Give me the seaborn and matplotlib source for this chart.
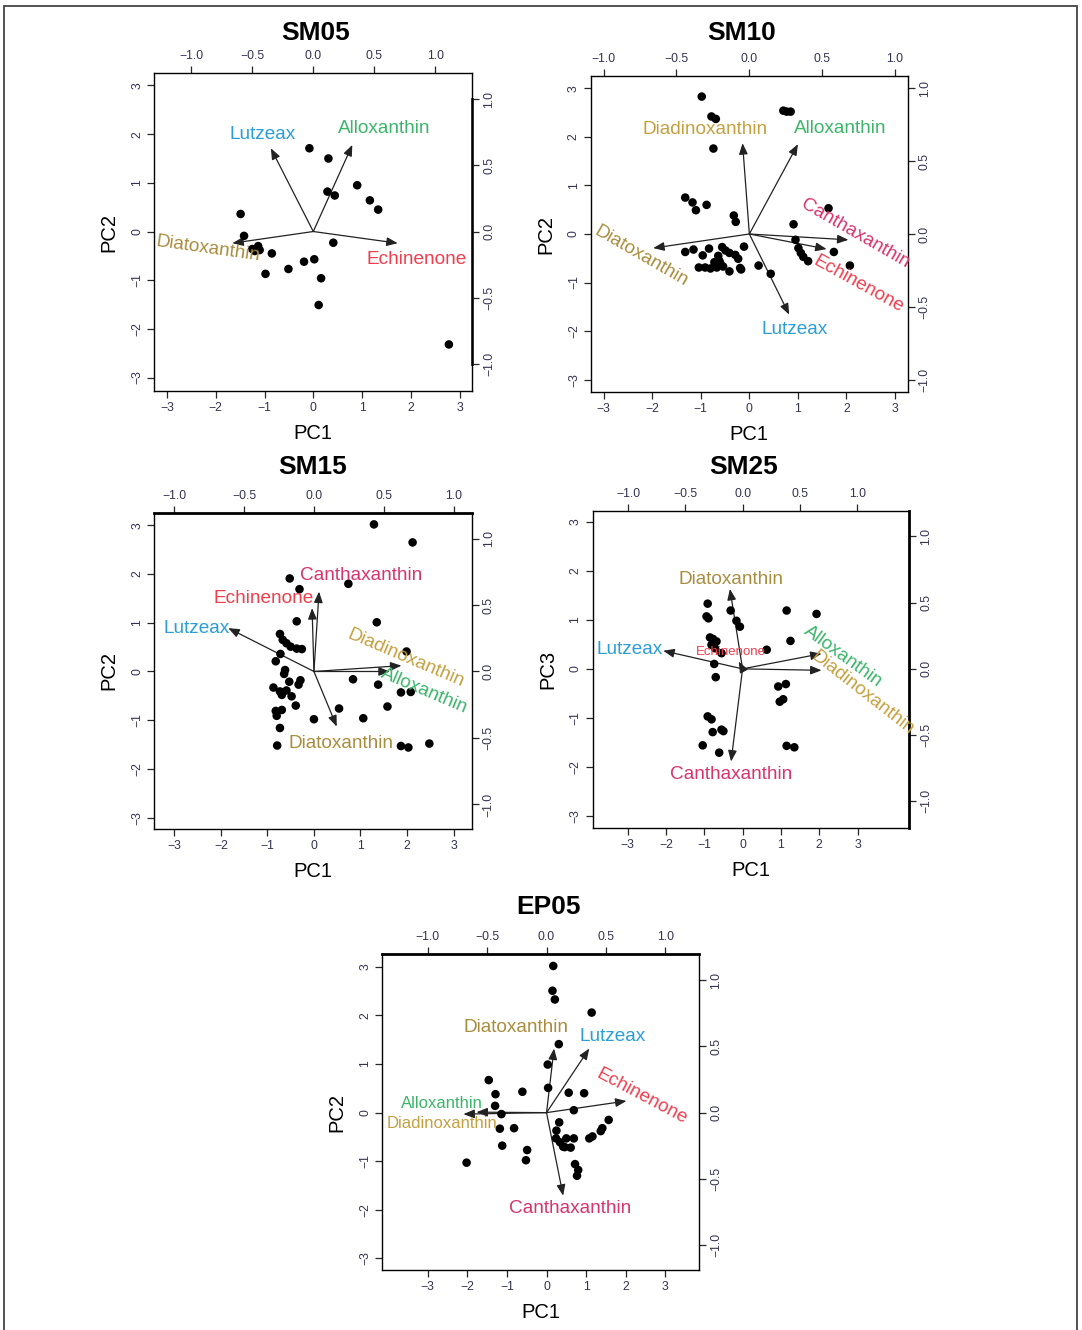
import matplotlib
matplotlib.use('Agg')
import matplotlib.pyplot as plt
import seaborn as sns
import pandas as pd
from matplotlib.patches import Rectangle

# ---------------- data (scores and loading arrow tips) ----------------
# SM05
sm05_pc1 = [-0.08, 0.31, 0.29, 0.44, 0.90, 1.16, 1.33, -1.49, -1.42, -1.25, -1.13, -1.10, -1.20,
            -0.85, -0.98, -0.51, -0.19, 0.02, 0.41, 0.16, 0.11, 2.78]
sm05_pc2 = [1.71, 1.50, 0.82, 0.74, 0.95, 0.64, 0.45, 0.36, -0.09, -0.36, -0.30, -0.38, -0.40,
            -0.45, -0.87, -0.77, -0.62, -0.57, -0.23, -0.96, -1.51, -2.32]
sm05_pigments = ['Lutzeax', 'Alloxanthin', 'Diatoxanthin', 'Echinenone']
sm05_arrow_x = [-0.87, 0.80, -1.66, 1.73]
sm05_arrow_y = [1.71, 1.78, -0.24, -0.24]

# SM10
sm10_pc1 = [-0.98, -0.78, -0.69, -0.74, 0.70, 0.77, 0.85, -1.32, -1.17, -1.10, -0.88, -0.32, -0.28,
            1.63, 0.91, -1.32, -1.15, -0.96, -0.83, -1.04, -0.91, -0.80, -0.67, -0.62, -0.64, -0.56,
            -0.49, -0.41, -0.29, -0.23, -0.54, -0.41, -0.19, -0.17, -0.11, 0.19, 0.44, 0.95, 1.01,
            1.06, 1.11, 1.21, 1.74, 2.07, -0.60, -0.72]
sm10_pc2 = [2.83, 2.42, 2.37, 1.76, 2.54, 2.52, 2.52, 0.75, 0.65, 0.49, 0.60, 0.38, 0.25,
            0.53, 0.20, -0.37, -0.32, -0.44, -0.30, -0.69, -0.69, -0.71, -0.69, -0.55, -0.45, -0.27,
            -0.34, -0.39, -0.43, -0.51, -0.67, -0.77, -0.70, -0.73, -0.26, -0.65, -0.82, -0.12, -0.29,
            -0.39, -0.47, -0.56, -0.37, -0.65, -0.60, -0.58]
sm10_pigments = ['Diadinoxanthin', 'Alloxanthin', 'Diatoxanthin', 'Canthaxanthin', 'Echinenone', 'Lutzeax']
sm10_arrow_x = [-0.14, 1.00, -1.98, 2.04, 1.59, 0.82]
sm10_arrow_y = [1.87, 1.85, -0.29, -0.12, -0.31, -1.66]

# SM15
sm15_pc1 = [1.29, 2.12, -0.52, -0.31, 0.74, -0.37, 1.35, -0.73, -0.67, -0.59, -0.50, -0.37, -0.26,
            -0.72, -0.82, -0.62, -0.64, -0.53, -0.29, -0.33, -0.87, -0.73, -0.69, -0.59, -0.48, -0.39,
            -0.82, -0.69, -0.80, -0.73, -0.79, 0.00, 0.54, 1.06, 0.84, 1.38, 1.58, 1.99, 1.87, 2.08,
            1.87, 2.03, 2.48]
sm15_pc2 = [3.02, 2.65, 1.91, 1.69, 1.80, 1.03, 1.01, 0.77, 0.65, 0.58, 0.51, 0.47, 0.46,
            0.36, 0.21, 0.03, -0.05, -0.21, -0.18, -0.27, -0.33, -0.41, -0.48, -0.39, -0.51, -0.70,
            -0.81, -0.79, -0.91, -1.16, -1.52, -0.98, -0.76, -0.96, -0.16, -0.27, -0.72, 0.41, -0.43, -0.42,
            -1.53, -1.56, -1.48]
sm15_pigments = ['Canthaxanthin', 'Echinenone', 'Lutzeax', 'Diadinoxanthin', 'Alloxanthin', 'Diatoxanthin']
sm15_arrow_x = [0.11, -0.04, -1.84, 1.88, 1.63, 0.49]
sm15_arrow_y = [1.64, 1.30, 0.89, 0.12, 0.00, -1.13]

# SM25 (PC1 vs PC3)
sm25_pc1 = [-0.91, -0.94, -0.89, -0.31, -0.16, -0.07, -0.85, -0.77, -0.68, -0.81, -0.72, -0.55,
            -0.74, -0.70, 0.63, 1.15, 1.25, 1.93, 0.93, 1.13, 0.97, 1.06, -0.91, -0.81, -0.78, -0.55,
            -0.50, -1.04, -0.61, 1.15, 1.35]
sm25_pc3 = [1.33, 1.07, 1.03, 1.19, 0.98, 0.86, 0.64, 0.61, 0.56, 0.49, 0.42, 0.32,
            0.10, -0.17, 0.39, 1.19, 0.57, 1.12, -0.36, -0.31, -0.67, -0.62, -0.97, -1.03, -1.29, -1.24,
            -1.27, -1.56, -1.71, -1.57, -1.60]
sm25_pigments = ['Diatoxanthin', 'Canthaxanthin', 'Lutzeax', 'Echinenone', 'Alloxanthin', 'Diadinoxanthin']
sm25_arrow_x = [-0.33, -0.30, -2.07, -0.10, 2.06, 2.06]
sm25_arrow_y = [1.63, -1.89, 0.37, 0.15, 0.31, -0.03]

# EP05
ep05_pc1 = [0.17, 0.15, 0.21, 1.14, 0.31, 0.03, 0.04, -1.46, -1.29, -1.30, -1.14, -1.18, -0.82,
            -0.61, -1.12, -0.49, -0.52, -2.02, 0.56, 0.95, 0.69, 0.32, 0.25, 0.24, 0.34, 0.42, 0.50,
            0.61, 0.69, 0.46, 0.72, 0.80, 0.77, 1.08, 1.16, 1.37, 1.41, 1.57]
ep05_pc2 = [3.02, 2.51, 2.33, 2.06, 1.41, 0.99, 0.51, 0.67, 0.38, 0.14, -0.03, -0.33, -0.32,
            0.43, -0.68, -0.77, -0.98, -1.03, 0.41, 0.40, 0.05, -0.20, -0.37, -0.53, -0.61, -0.70, -0.53,
            -0.72, -0.53, -0.71, -1.06, -1.18, -1.30, -0.53, -0.49, -0.38, -0.32, -0.15]
ep05_pigments = ['Diatoxanthin', 'Lutzeax', 'Echinenone', 'Alloxanthin', 'Diadinoxanthin', 'Canthaxanthin']
ep05_arrow_x = [0.19, 1.08, 2.02, -2.10, -1.77, 0.42]
ep05_arrow_y = [1.32, 1.32, 0.24, -0.03, 0.01, -1.71]

# ---------------- styling ----------------
pigment_colors = {
    'Lutzeax': '#2b9ed8',
    'Alloxanthin': '#3cb56a',
    'Diatoxanthin': '#a98d3e',
    'Diadinoxanthin': '#c4a040',
    'Echinenone': '#ef3e4e',
    'Canthaxanthin': '#d8336c',
}

# label placement: (x, y, rotation, fontsize) per arrow, in score units
# rect / title position in pixels of the 1082x1330 canvas
panels = [
    dict(title='SM05', tpos=(316, 32.7), pc1=sm05_pc1, pc2=sm05_pc2, pig=sm05_pigments,
         ax_=sm05_arrow_x, ay_=sm05_arrow_y,
         rect=[154.3, 73.3, 472.3, 390.7], xlim=(-3.26, 3.26), ylim=(-3.27, 3.25), fx=2.5, fy=2.72,
         ylabel='PC2', thick='right_short',
         labels=[(-1.04, 2.00, 0, 13.7), (1.45, 2.12, 0, 13.7), (-2.15, -0.36, -8, 13.7), (2.12, -0.57, 0, 13.7)]),
    dict(title='SM10', tpos=(742, 32.7), pc1=sm10_pc1, pc2=sm10_pc2, pig=sm10_pigments,
         ax_=sm10_arrow_x, ay_=sm10_arrow_y,
         rect=[591.0, 75.7, 907.7, 392.3], xlim=(-3.26, 3.26), ylim=(-3.26, 3.26), fx=3.0, fy=3.0,
         ylabel='PC2', thick=None,
         labels=[(-0.91, 2.16, 0, 13.7), (1.87, 2.18, 0, 13.7), (-2.22, -0.46, -30, 13.7),
                 (2.18, 0.00, -30, 13.7), (2.24, -1.04, -29, 13.7), (0.94, -1.97, 0, 13.7)]),
    dict(title='SM15', tpos=(313, 467.3), pc1=sm15_pc1, pc2=sm15_pc2, pig=sm15_pigments,
         ax_=sm15_arrow_x, ay_=sm15_arrow_y,
         rect=[154.3, 512.7, 471.7, 829.3], xlim=(-3.43, 3.39), ylim=(-3.24, 3.26), fx=3.0, fy=2.73,
         ylabel='PC2', thick='top',
         labels=[(1.02, 1.98, 0, 13.7), (-1.09, 1.50, 0, 13.7), (-2.53, 0.89, 0, 13.7),
                 (1.98, 0.27, -23, 13.7), (2.38, -0.39, -23, 13.7), (0.59, -1.48, 0, 13.7)]),
    dict(title='SM25', tpos=(744, 467.3), pc1=sm25_pc1, pc2=sm25_pc3, pig=sm25_pigments,
         ax_=sm25_arrow_x, ay_=sm25_arrow_y,
         rect=[592.7, 511.0, 909.3, 827.7], xlim=(-3.91, 4.35), ylim=(-3.24, 3.22), fx=2.99, fy=2.70,
         ylabel='PC3', thick='right',
         labels=[(-0.29, 1.83, 0, 13.7), (-0.29, -2.16, 0, 13.7), (-2.94, 0.40, 0, 13.7),
                 (-0.31, 0.35, 0, 9.5), (2.63, 0.25, -36, 13.7), (3.13, -0.50, -38, 13.7)]),
    dict(title='EP05', tpos=(548, 907.3), pc1=ep05_pc1, pc2=ep05_pc2, pig=ep05_pigments,
         ax_=ep05_arrow_x, ay_=ep05_arrow_y,
         rect=[382.3, 954.3, 699.3, 1270.0], xlim=(-4.15, 3.86), ylim=(-3.24, 3.26), fx=3.0, fy=2.73,
         ylabel='PC2', thick='top',
         labels=[(-0.76, 1.75, 0, 13.7), (1.66, 1.56, 0, 13.7), (2.42, 0.33, -28, 13.7),
                 (-2.65, 0.19, 0, 12), (-2.65, -0.23, 0, 12), (0.59, -1.97, 0, 13.7)]),
]

W, H = 1082, 1330
sns.set_style('white')
plt.rcParams['font.family'] = ['Liberation Sans', 'DejaVu Sans']
plt.rcParams['text.color'] = 'black'
plt.rcParams['axes.labelcolor'] = 'black'

fig = plt.figure(figsize=(W / 100, H / 100), dpi=100, facecolor='white')
tick_col = '#333352'
load_ticks = [-1.0, -0.5, 0.0, 0.5, 1.0]

for p in panels:
    l, t, r, b = p['rect']
    ax = fig.add_axes([l / W, 1 - b / H, (r - l) / W, (b - t) / H])
    df = pd.DataFrame({'x': p['pc1'], 'y': p['pc2']})
    sns.scatterplot(data=df, x='x', y='y', ax=ax, color='black', s=38, edgecolor='none', zorder=3)

    # loading arrows and pigment labels
    for name, xa, ya, (lx, ly, rot, fs) in zip(p['pig'], p['ax_'], p['ay_'], p['labels']):
        ax.annotate('', xy=(xa, ya), xytext=(0, 0),
                    arrowprops=dict(arrowstyle='-|>,head_length=0.55,head_width=0.22',
                                    color='#222222', lw=0.9, shrinkA=0, shrinkB=0, mutation_scale=12),
                    zorder=2)
        ax.text(lx, ly, name, color=pigment_colors[name], fontsize=fs, rotation=rot,
                ha='center', va='center', rotation_mode='anchor', zorder=4)

    ax.set_xlim(*p['xlim'])
    ax.set_ylim(*p['ylim'])
    ax.set_xticks([-3, -2, -1, 0, 1, 2, 3])
    ax.set_yticks([-3, -2, -1, 0, 1, 2, 3])
    ax.tick_params(axis='both', direction='out', length=5, width=0.9, labelsize=8.8,
                   labelcolor=tick_col, pad=3, bottom=True, left=True)
    for lab in ax.get_yticklabels():
        lab.set_rotation(90)
        lab.set_va('center')
    for s in ax.spines.values():
        s.set_linewidth(1.0)
        s.set_color('black')
    ax.set_xlabel('PC1', fontsize=14.5, labelpad=7)
    ax.set_ylabel(p['ylabel'], fontsize=14.5, labelpad=9)
    fig.text(p['tpos'][0] / W, 1 - p['tpos'][1] / H, p['title'], ha='center', va='center',
             fontsize=19, fontweight='bold')

    fx, fy = p['fx'], p['fy']
    top = ax.secondary_xaxis('top', functions=(lambda v, k=fx: v / k, lambda v, k=fx: v * k))
    right = ax.secondary_yaxis('right', functions=(lambda v, k=fy: v / k, lambda v, k=fy: v * k))
    top.set_xticks(load_ticks)
    right.set_yticks(load_ticks)
    top.set_xticklabels([f'{v:.1f}'.replace('-', '\u2212') for v in load_ticks])
    right.set_yticklabels([f'{v:.1f}'.replace('-', '\u2212') for v in load_ticks],
                          rotation=90, va='center')
    for sec in (top, right):
        sec.tick_params(direction='out', length=5, width=0.9, labelsize=8.8, labelcolor=tick_col, pad=3)
    top.spines['top'].set_visible(False)
    right.spines['right'].set_visible(False)
    if p['thick'] == 'right_short':
        right.spines['right'].set_visible(True)
        right.spines['right'].set_bounds(-1, 1)
        right.spines['right'].set_linewidth(2.0)
    elif p['thick'] == 'right':
        ax.spines['right'].set_linewidth(2.0)
    elif p['thick'] == 'top':
        ax.spines['top'].set_linewidth(2.0)

# outer frame around the whole figure
fig.add_artist(Rectangle((4 / W, -0.01), (1077 - 4) / W, 1.01 - 5.5 / H, transform=fig.transFigure,
                         fill=False, edgecolor='#444444', linewidth=1.3))

fig.savefig('out.png', dpi=100, facecolor='white')
